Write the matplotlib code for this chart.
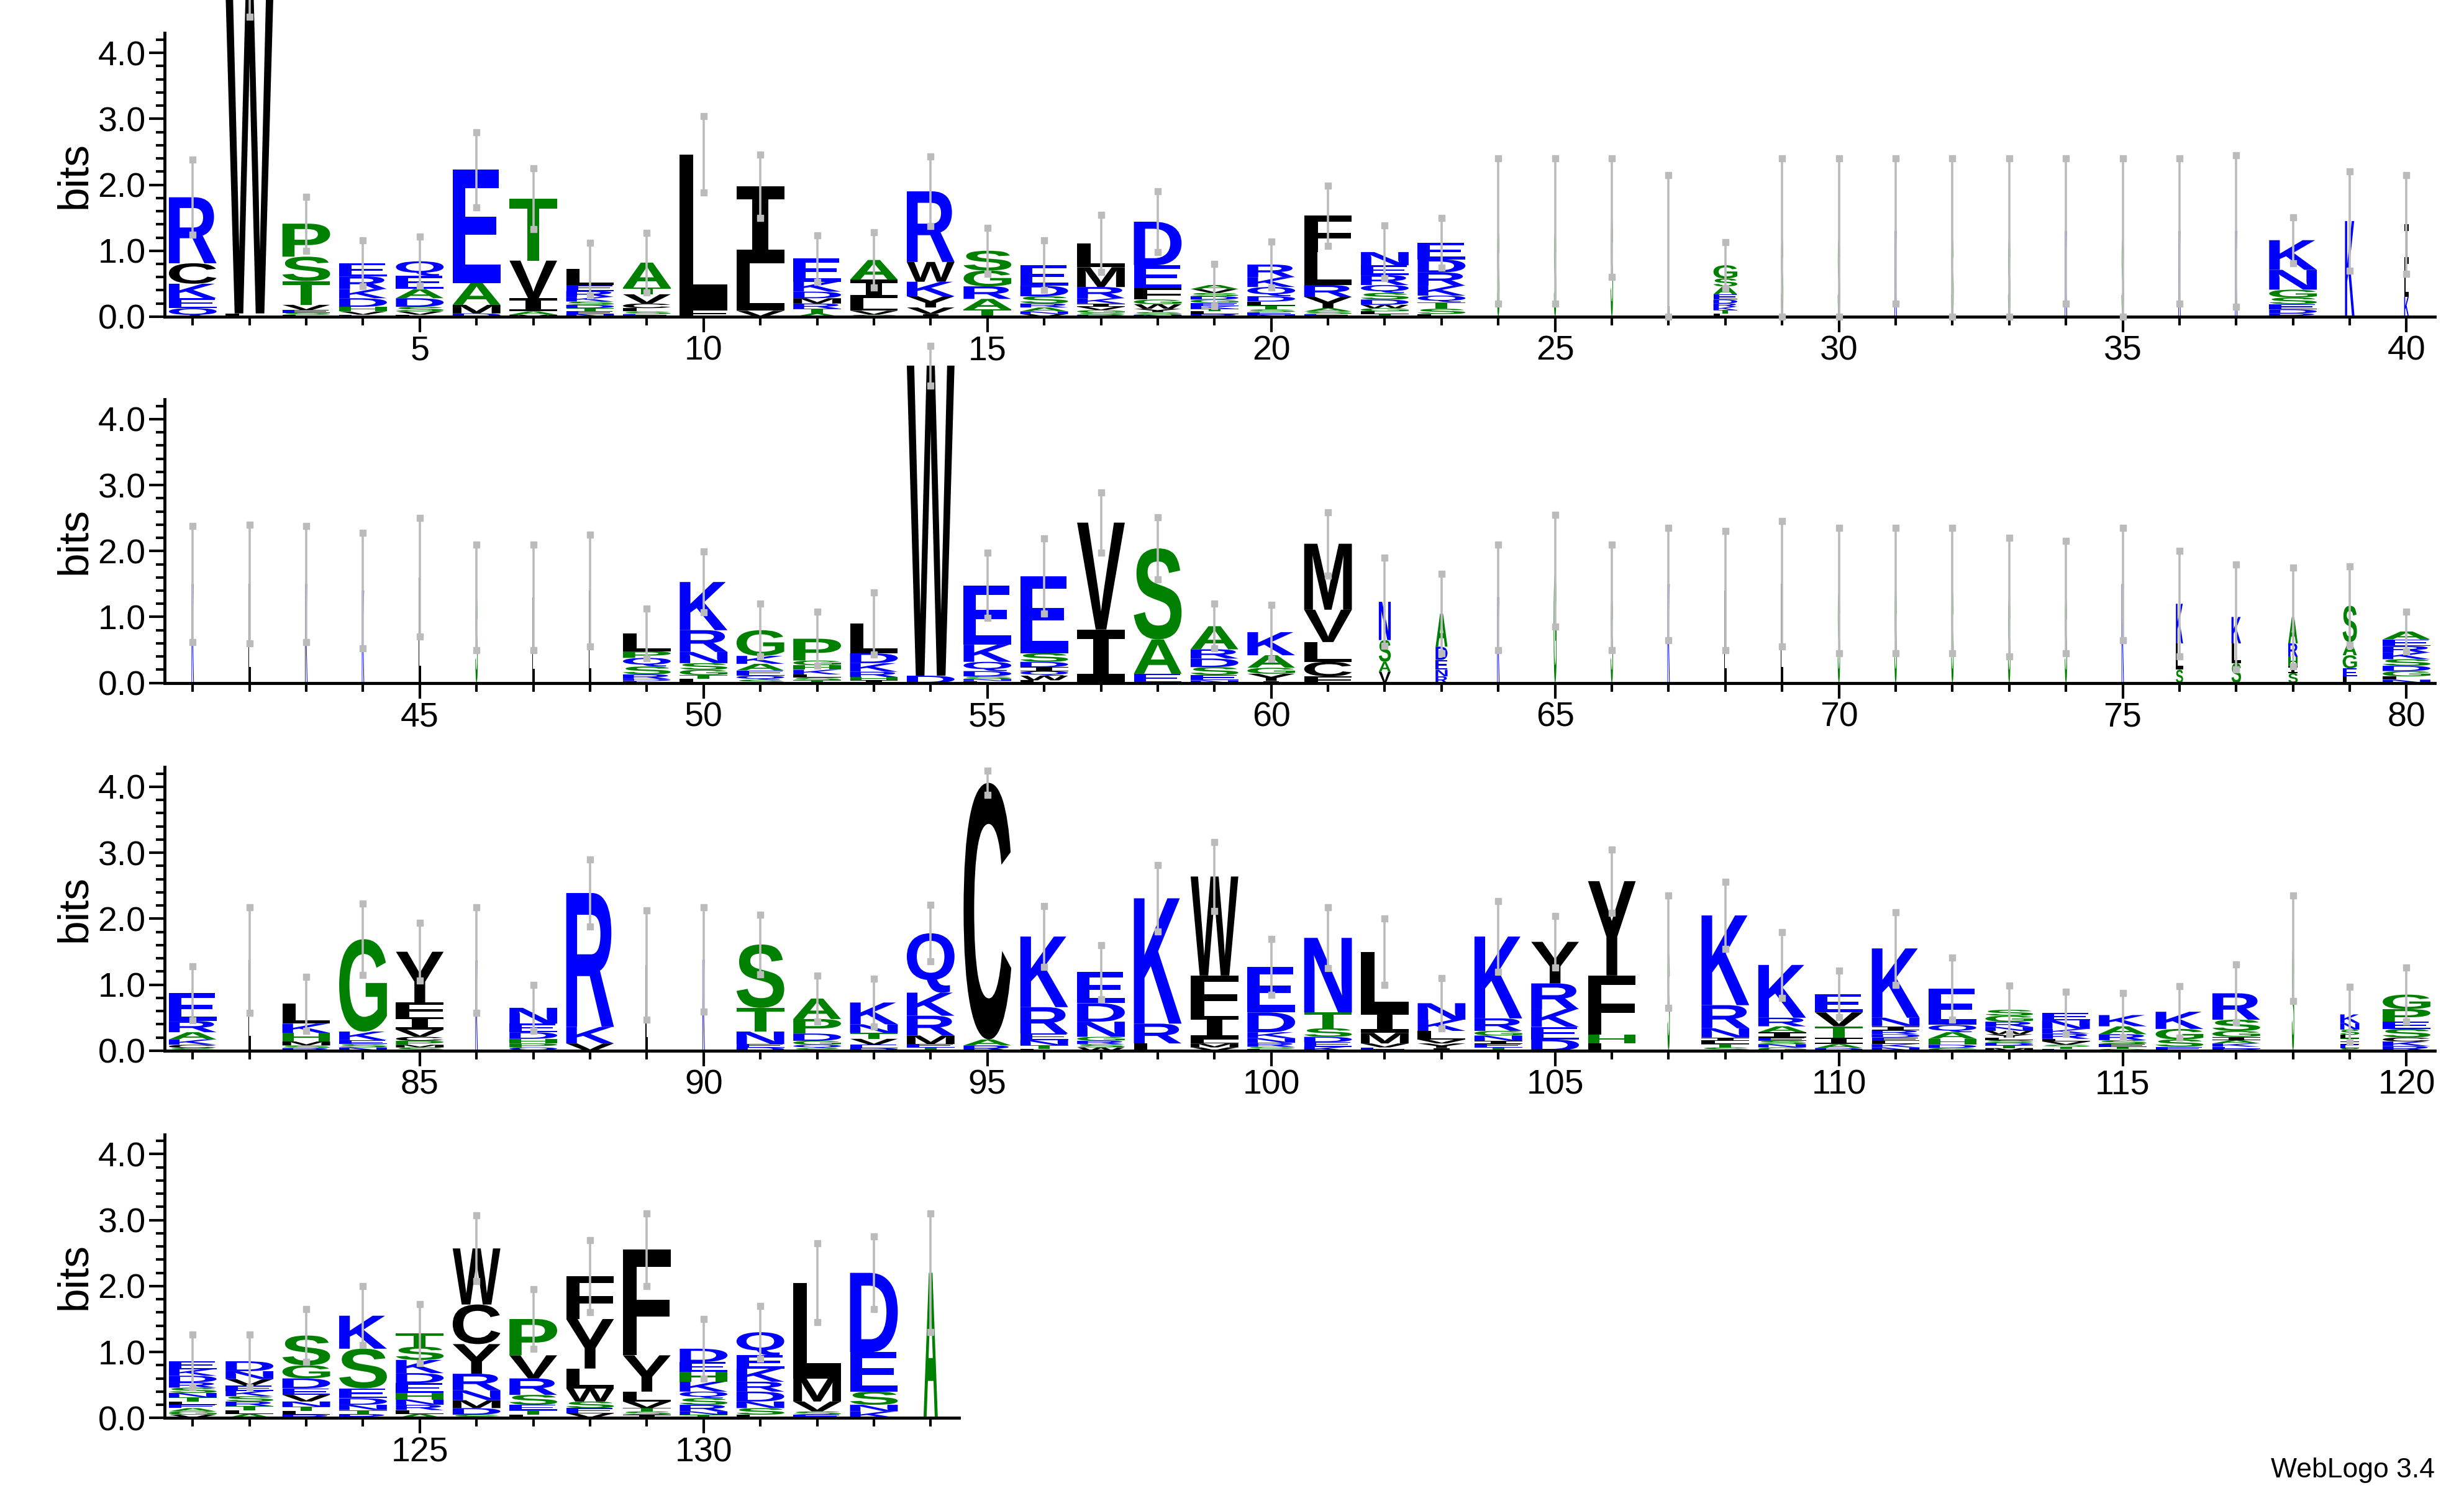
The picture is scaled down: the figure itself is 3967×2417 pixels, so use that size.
import matplotlib
matplotlib.use('Agg')
import matplotlib.pyplot as plt
from matplotlib.textpath import TextPath
from matplotlib.font_manager import FontProperties
from matplotlib.patches import PathPatch
from matplotlib.transforms import Affine2D
from matplotlib.ticker import MultipleLocator

plt.rcParams['font.family'] = ['Liberation Sans', 'DejaVu Sans']

# ---- data: stacks listed top -> bottom, letter + height in bits ----
STACKS_1 = ["R1.0 C.31 K.22 E.15 Q.13", "W4.8 L.05", "P.5 S.37 T.36 V.08 E.04 S.03 L.03",
            "E.2 R.19 K.14 D.13 H.07 V.05 E.03", "Q.22 E.2 A.14 D.13 S.07 V.05 L.03",
            "E1.72 A.33 M.13 D.05", "T.94 V.57 I.2 A.05 M.03",
            "L.24 E.09 R.09 K.07 S.05 D.05 T.05 E.04 N.04",
            "A.38 T.1 V.14 C.07 L.05 S.04 E.04", "L2.35 F.11", "I1.17 L.72 V.09",
            "E.35 K.15 D.1 M.08 R.08 T.07 A.05", "A.3 I.28 L.19 V.06 S.03",
            "R1.07 W.3 K.22 Y.17 V.1 I.04", "S.3 G.24 R.19 A.16 T.11",
            "E.31 D.16 S.11 R.06 A.06 N.04 V.04", "L.36 M.3 R.17 K.08 I.05 V.05 G.04 S.03 D.03",
            "D.66 E.35 F.17 G.07 W.07 Y.05 S.04 N.03", "A.06 V.06 S.05 D.05 G.05 E.05 K.04 T.04 L.04 R.04",
            "R.19 K.15 Q.14 D.08 L.06 T.06 S.04 E.04 N.03", "F.55 L.5 R.18 Y.17 A.05 S.04 E.04",
            "N.2 E.15 R.15 Q.12 S.1 D.08 W.05 G.05 L.04 T.04", "E.25 D.2 R.2 K.15 Q.1 T.1 S.08 L.04",
            "S1.3", "S1.3", "S1.5", "L1.0", "G.2 S.12 A.12 E.08 D.06 R.05 K.05 T.05 L.05",
            "S1.2", "S1.2", "K1.3", "S1.2", "S1.2", "K1.3", "S1.2", "K1.3", "K1.3",
            "K.45 N.3 G.12 S.1 E.08 D.06 R.05", "K1.45", "I.6 L.5 K.3"]
ERR_1 = [.57, .3, .41, .35, .37, .57, .46, .4, .45, .58, .48, .35, .42, .53, .35, .38, .43, .46, .32, .35,
         .46, .4, .38, 1.1, 1.1, .9, 1.15, .35, 1.2, 1.2, 1.1, 1.2, 1.2, 1.1, 1.2, 1.1, 1.15, .35, .75, .75]

STACKS_2 = ["K1.5", "L1.5", "K1.5", "K1.4", "L1.6", "S1.3", "L1.3", "L1.4",
            "L.27 P.1 Q.13 S.12 R.07 D.03 L.03", "K.73 R.33 N.17 S.1 G.08 T.06 L.06",
            "G.39 K.12 A.1 E.08 Q.06 S.05", "P.33 G.07 H.07 K.07 L.05 S.04 T.04",
            "L.45 D.15 K.13 R.08 H.05 I.04", "W4.7 D.11", "E.9 K.26 Q.14 D.08 S.04 N.03 L.03",
            "E1.17 S.13 D.08 I.06 Q.07 W.07 L.04", "V1.62 I.81", "S1.38 A.52 E.14",
            "A.35 R.14 D.13 S.12 E.08 N.04", "K.35 A.19 G.09 Y.11 I.03", "M1.0 V.49 L.3 C.22 F.1",
            "N.58 S.33 A.15 V.17", "A.5 D.2 E.15 N.1 R.1",
            "K1.3", "G1.7", "S1.3", "K1.5", "L1.4", "L1.5", "S1.4", "S1.4", "S1.4", "S1.3",
            "S1.3", "K1.5", "K.6 L.4 S.2", "K.4 L.3 S.3", "A.4 R.2 H.15 I.1 S.15",
            "S.55 A.2 G.2 E.12 L.1", "A.12 E.1 R.1 K.1 S.1 D.08 G.08 L.05 N.05"]
ERR_2 = [.88, .9, .88, .88, .9, .8, .8, .85, .38, .46, .4, .41, .47, .3, .49, .57, .46, .47, .34, .41,
         .48, .67, .6, .8, .85, .8, .85, .9, .95, .95, .95, .95, .9, .85, .85, .8, .8, .75, .6, .3]

STACKS_3 = ["E.42 R.17 A.11 K.08 C.05 S.04", "L1.37", "L.3 K.14 H.13 M.06 S.04 R.04",
            "G1.4 K.13 E.06 S.05 N.05", "Y.77 F.22 I.19 V.11 C.06 P.06 M.04 S.05",
            "K1.37", "N.24 E.13 D.1 H.07 P.06 Q.05", "R2.03 K.25 V.11", "L1.3", "K1.38",
            "S.96 T.36 N.19 E.05 D.05", "A.31 P.22 D.11 G.06 Q.05 S.04",
            "K.33 N.13 T.09 V.09 E.05 D.04", "Q.9 K.35 R.3 M.13 E.05 T.05", "C3.89 A.09 R.08",
            "K1.07 R.4 E.1 N.08 T.05 L.03", "E.47 D.28 N.23 G.06 R.05 S.05 W.05",
            "K1.9 R.3 L.11", "W1.5 F.61 I.36 L.06 M.06 V.05", "E.69 D.3 K.09 N.07 R.06 S.03 E.03",
            "N1.13 T.24 S.13 D.08 E.07 K.06", "L.9 I.33 M.16 V.06 E.05",
            "N.25 K.17 L.13 V.06 Y.07 I.04", "K1.24 R.19 G.07 N.08 I.05 E.05 T.05",
            "Y.63 R.39 K.27 E.19 D.17", "Y1.43 F.9 H.13 L.11", "S1.5",
            "K1.36 R.35 N.14 I.05 L.05 T.05 S.05", "K.8 R.13 A.09 I.08 E.05 S.05 N.05 G.05",
            "E.28 V.21 T.17 I.1 A.06 D.04", "K1.05 N.13 I.06 R.06 D.05 E.05 L.05 K.05 N.05",
            "E.55 Q.11 A.1 H.09 D.05 G.04", "S.09 G.09 R.08 N.06 W.05 Y.05 L.04 S.04 D.04 T.04 M.04",
            "E.11 N.13 K.07 R.08 L.04 V.05 S.03 T.03 E.03", "K.17 A.12 R.09 S.06 E.04 T.03 G.03",
            "K.26 G.16 S.11 E.06", "R.4 S.17 G.09 I.05 A.05 K.05 E.03 D.03", "S1.55",
            "K.13 N.1 S.08 L.05 T.05 I.05 E.05 S.04", "G.22 P.19 E.11 S.13 C.06 K.07 R.07"]
ERR_3 = [.41, .8, .41, .54, .44, .8, .35, .51, .83, .79, .45, .35, .36, .43, .18, .46, .41, .5, .52, .42,
         .46, .5, .38, .54, .39, .48, .85, .51, .5, .35, .55, .47, .37, .32, .33, .39, .44, .8, .42, .41]

STACKS_4 = ["E.12 K.1 D.1 R.08 S.08 N.07 T.06 L.05 E.05 A.05 G.05 V.05",
            "D.15 N.12 V.1 E.08 K.08 S.08 R.07 T.06 L.06 A.06",
            "S.45 G.2 D.15 E.1 V.1 N.08 T.06 L.06 R.05",
            "K.5 S.6 E.15 D.1 N.08 T.06 R.06", "T.2 S.2 K.2 D.15 E.15 H.1 N.08 R.08 L.06 A.06",
            "W.85 C.6 Y.45 R.25 N.15 M.12 D.1 S.05", "P.55 V.35 R.25 S.15 E.08 T.07 L.05",
            "F.65 Y.75 L.3 W.2 S.1 E.08 V.07", "F1.6 Y.55 L.15 V.1 T.05 S.05 I.05",
            "D.2 E.15 H.15 K.15 Q.1 S.1 R.1 N.05 T.05", "Q.35 E.2 K.2 R.15 D.15 N.1 S.1 L.05",
            "L1.45 M.35 V.15 S.05 E.05", "D1.2 E.6 S.2 N.1 K.1", "A2.2"]
ERR_4 = [.4, .4, .4, .45, .45, .5, .45, .55, .55, .45, .4, .6, .55, .9]

THIN = {24: .05, 25: .05, 26: .05, 27: .05, 28: .5, 29: .05, 30: .05, 31: .05, 32: .05, 33: .05,
        34: .05, 35: .05, 36: .05, 37: .05, 39: .2, 40: .1,
        41: .05, 42: .05, 43: .05, 44: .05, 45: .05, 46: .05, 47: .05, 48: .05, 62: .25, 63: .25,
        64: .05, 65: .06, 66: .05, 67: .05, 68: .05, 69: .05, 70: .05, 71: .05, 72: .05, 73: .05,
        74: .05, 75: .05, 76: .15, 77: .2, 78: .2, 79: .3,
        82: .05, 86: .05, 89: .05, 90: .05, 107: .05, 118: .05, 119: .4, 134: .3}

ROWS = [(1, STACKS_1, ERR_1), (41, STACKS_2, ERR_2), (81, STACKS_3, ERR_3), (121, STACKS_4, ERR_4)]

def color(ch):
    if ch in "KRDENQ":
        return '#0000ff'
    if ch in "STGPAH":
        return '#008000'
    return '#000000'

FP = FontProperties(family='Liberation Sans', weight='bold')
FP_I = FontProperties(family='DejaVu Sans Mono', weight='bold')
cache = {}
def glyph(ch):
    if ch not in cache:
        p = TextPath((0, 0), ch, size=100, prop=FP_I if ch == 'I' else FP)
        cache[ch] = (p, p.get_extents())
    return cache[ch]

fig = plt.figure(figsize=(39.67, 24.17), dpi=100)
bottoms = [0.789, 0.545, 0.300, 0.0553]
L, W, H = 0.0667, 0.9215, 0.189

for r, (start, stacks, errs) in enumerate(ROWS):
    n = len(stacks)
    ax = fig.add_axes([L, bottoms[r], W * n / 40, H])
    ax.set_xlim(start - 0.5, start + n - 0.5)
    ax.set_ylim(0, 4.3)
    for i, spec in enumerate(stacks):
        x = start + i
        wf = THIN.get(x, 1.0)
        items = [(t[0], float(t[1:])) for t in spec.split()]
        y = 0.0
        for ch, h in reversed(items):
            p, ext = glyph(ch)
            w = 0.84 * wf
            tr = Affine2D().translate(-ext.x0, -ext.y0).scale(w / ext.width, h / ext.height).translate(x - w / 2, y)
            ax.add_patch(PathPatch(tr.transform_path(p), fc=color(ch), lw=0, clip_on=False, zorder=2))
            y += h
        e = errs[i]
        ax.plot([x, x], [max(y - e, 0), y + e], color='#bbbbbb', lw=2.6, clip_on=False, zorder=3)
        ax.plot([x, x], [max(y - e, 0), y + e], ls='none', marker='s', ms=7, color='#bbbbbb',
                clip_on=False, zorder=3)
    for s in ('top', 'right'):
        ax.spines[s].set_visible(False)
    for s in ('left', 'bottom'):
        ax.spines[s].set_linewidth(3.5)
    ax.set_yticks([0, 1, 2, 3, 4])
    ax.set_yticklabels(['0.0', '1.0', '2.0', '3.0', '4.0'])
    ax.yaxis.set_minor_locator(MultipleLocator(0.2))
    ticks5 = [t for t in range(start, start + n) if t % 5 == 0]
    ax.set_xticks(ticks5)
    ax.set_xticklabels([str(t) for t in ticks5])
    ax.set_xticks(range(start, start + n), minor=True)
    ax.tick_params(axis='both', which='major', labelsize=40, width=3, length=18, direction='out')
    ax.tick_params(axis='both', which='minor', width=3, length=10, direction='out')
    ax.set_ylabel('bits', fontsize=50, labelpad=4)

fig.text(0.988, 0.012, 'WebLogo 3.4', ha='right', va='bottom', fontsize=32)
fig.savefig('out.png', dpi=100)
